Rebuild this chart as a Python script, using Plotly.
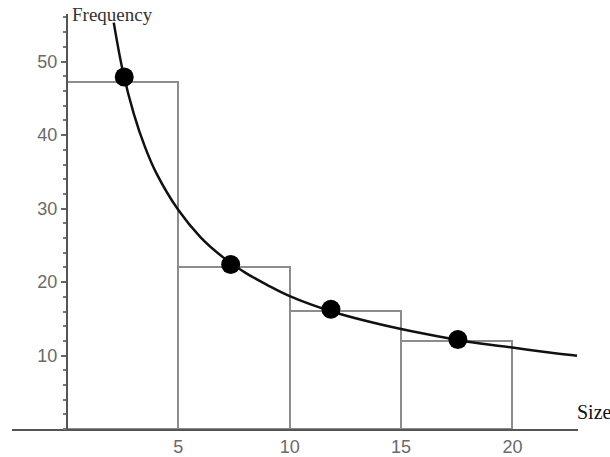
import plotly.graph_objects as go

# Histogram bins (Size) and frequencies
bin_centers = [2.5, 7.5, 12.5, 17.5]
bin_width = 5
frequencies = [47.3, 22.1, 16.1, 12.0]

# Observed points
point_x = [2.57, 7.35, 11.85, 17.55]
point_y = [47.9, 22.4, 16.3, 12.2]

# Fitted curve
curve_x = [2.1, 2.5, 3, 3.5, 4, 5, 6, 7, 8, 9, 10, 12, 14, 16, 18, 20, 22, 22.9]
curve_y = [55.3, 48.8, 42.9, 38.4, 34.9, 29.8, 26.1, 23.4, 21.3, 19.6, 18.1,
           15.9, 14.3, 13.0, 11.9, 11.1, 10.3, 10.0]

x_ticks = [5, 10, 15, 20]
y_ticks = [10, 20, 30, 40, 50]

W, H = 610, 457
fig = go.Figure()
fig.add_trace(go.Bar(x=bin_centers, y=frequencies, width=bin_width,
                     marker=dict(color="rgba(0,0,0,0)",
                                 line=dict(color="#8c8c8c", width=2)),
                     showlegend=False))
fig.add_trace(go.Scatter(x=curve_x, y=curve_y, mode="lines",
                         line=dict(color="#111111", width=2.5, shape="spline"),
                         showlegend=False))
fig.add_trace(go.Scatter(x=point_x, y=point_y, mode="markers",
                         marker=dict(color="black", size=19),
                         showlegend=False))

x0_px, x1_px = 12, 578
y0_px, y1_px = 432, 14
xs = 22.27
ys = 7.4
xmin = (x0_px - 67) / xs
xmax = (x1_px - 67) / xs
ymax = (y0_px - y1_px) / ys

tick_font = dict(family="Liberation Sans", size=18, color="#6a6a6a")

fig.update_layout(
    width=W, height=H,
    margin=dict(l=0, r=0, t=0, b=0),
    paper_bgcolor="white", plot_bgcolor="white",
    bargap=0,
    xaxis=dict(domain=[x0_px / W, x1_px / W], range=[xmin, xmax],
               showgrid=False, zeroline=False, showline=True,
               linecolor="#555555", linewidth=2,
               tickvals=x_ticks, ticks="", tickfont=tick_font),
    yaxis=dict(domain=[(H - y0_px) / H, (H - y1_px) / H], range=[0, ymax],
               anchor="free", position=67 / W,
               showgrid=False, zeroline=False, showline=True,
               linecolor="#555555", linewidth=2,
               tickvals=y_ticks, ticks="outside", ticklen=5, tickwidth=2,
               tickcolor="#666666",
               minor=dict(dtick=2, ticks="outside", ticklen=3, tickwidth=2,
                          tickcolor="#777777", showgrid=False),
               tickfont=tick_font),
    annotations=[
        dict(text="Frequency", xref="paper", yref="paper",
             x=70 / W, y=1 - 15 / H, xanchor="left", yanchor="middle",
             showarrow=False,
             font=dict(family="Liberation Serif", size=19, color="#333333")),
        dict(text="Size", xref="paper", yref="paper",
             x=575 / W, y=1 - 415 / H, xanchor="left", yanchor="middle",
             showarrow=False,
             font=dict(family="Liberation Serif", size=20, color="#111111")),
    ],
)

fig.write_html("out.html", config={"displayModeBar": False},
               post_script="document.body.style.margin='0';document.body.style.overflow='hidden';")
